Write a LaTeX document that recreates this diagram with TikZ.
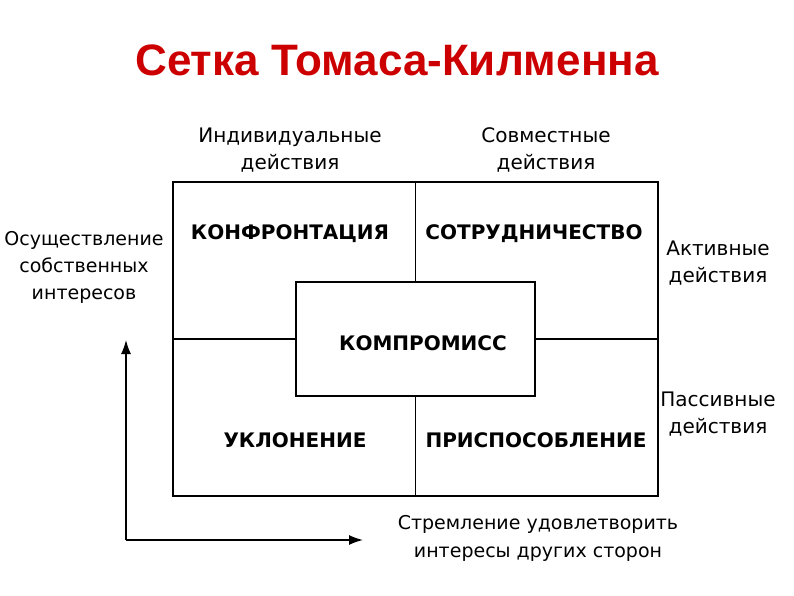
\documentclass[tikz,border=0pt]{standalone}
\usepackage{fontspec}
\setmainfont{DejaVu Sans}
\newfontfamily\titlefont{Liberation Sans}
\usetikzlibrary{arrows.meta}
\definecolor{titlered}{RGB}{204,0,0}
\tikzset{
  lbl/.style={align=center, inner sep=0pt, font=\fontsize{20}{27}\selectfont},
  cell/.style={inner sep=0pt, font=\bfseries\fontsize{20}{22}\selectfont},
}
\begin{document}
\begin{tikzpicture}[x=1pt, y=-1pt]
            \useasboundingbox (0,0) rectangle (794,595);
            \node[text=titlered, font=\titlefont\bfseries\fontsize{44}{50}\selectfont] (title) at (397,60) {Сетка Томаса-Килменна};
            % the grid
            \node[draw, line width=1.8pt, minimum width=485pt, minimum height=314pt] (grid) at (415.5,339) {};
            \node[minimum width=239pt, minimum height=114pt] (komp) at (415.5,339) {};
            \draw[line width=1.3pt] (grid.north) -- (komp.north) (komp.south) -- (grid.south);
            \draw[line width=1.3pt] (grid.west) -- (komp.west) (komp.east) -- (grid.east);
            \draw[line width=1.8pt] (komp.north west) rectangle (komp.south east);
            \node[cell] (konf) at (290,234) {КОНФРОНТАЦИЯ};
            \node[cell] (sotr) at (534,234) {СОТРУДНИЧЕСТВО};
            \node[cell] (ukl) at (295,440) {УКЛОНЕНИЕ};
            \node[cell] (pris) at (536,440) {ПРИСПОСОБЛЕНИЕ};
            \node[cell] (kompt) at (423,343) {КОМПРОМИСС};
            % labels round the grid
            \node[lbl] (indiv) at (290,150) {Индивидуальные\\действия};
            \node[lbl] (sovm) at (546,150) {Совместные\\действия};
            \node[lbl, font=\fontsize{19}{27}\selectfont] (osush) at (84,267) {Осуществление\\собственных\\интересов};
            \node[lbl] (aktiv) at (718,263) {Активные\\действия};
            \node[lbl] (pass) at (718,414) {Пассивные\\действия};
            \node[lbl, font=\fontsize{19}{28}\selectfont] (strem) at (538,538) {Стремление удовлетворить\\интересы других сторон};
            % axes
            \coordinate (origin) at (126,540);
            \coordinate (yend) at (126,340);
            \coordinate (xend) at (363,540);
            \draw[line width=1.4pt, -{Latex[length=14pt, width=10pt]}] (origin) -- (yend);
            \draw[line width=1.4pt, -{Latex[length=14pt, width=10pt]}] (origin) -- (xend);
        \end{tikzpicture}
\end{document}
